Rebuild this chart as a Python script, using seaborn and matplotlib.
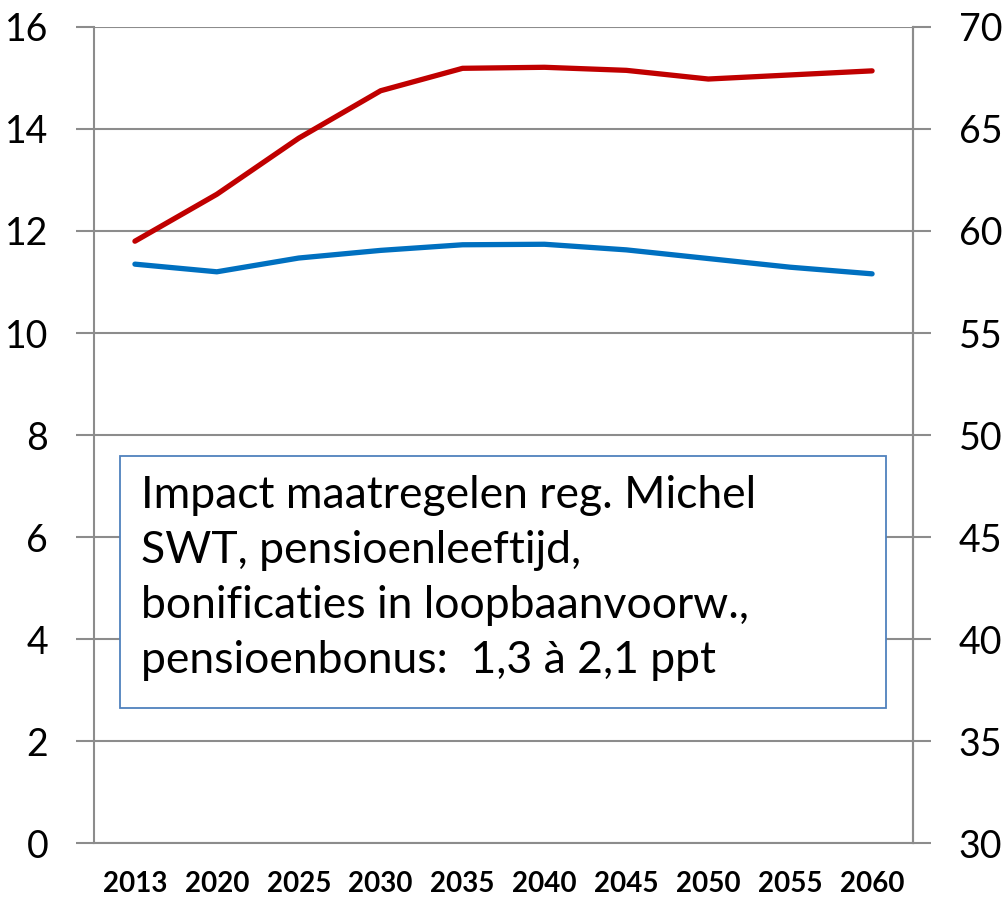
import numpy as np
import pandas as pd
import matplotlib
matplotlib.use("Agg")
import matplotlib.pyplot as plt
import seaborn as sns
from matplotlib.patches import Rectangle
from matplotlib.ticker import FixedLocator, NullFormatter

years = ["2013", "2020", "2025", "2030", "2035", "2040", "2045", "2050", "2055", "2060"]
red_values = [11.80, 12.72, 13.82, 14.75, 15.19, 15.21, 15.15, 14.98, 15.06, 15.14]
blue_values = [11.35, 11.20, 11.47, 11.62, 11.73, 11.74, 11.63, 11.46, 11.29, 11.16]
left_ticks = [0, 2, 4, 6, 8, 10, 12, 14, 16]
right_ticks = [30, 35, 40, 45, 50, 55, 60, 65, 70]
box_lines = [
    "Impact maatregelen reg. Michel",
    "SWT, pensioenleeftijd,",
    "bonificaties in loopbaanvoorw.,",
    "pensioenbonus:  1,3 à 2,1 ppt",
]

sns.set_style("white")
plt.rcParams["font.family"] = ["Lato", "DejaVu Sans"]
plt.rcParams["text.color"] = "black"
plt.rcParams["xtick.color"] = "black"
plt.rcParams["ytick.color"] = "black"

df = pd.DataFrame({
    "year": years * 2,
    "value": red_values + blue_values,
    "series": ["red"] * len(years) + ["blue"] * len(years),
})
df["x"] = list(range(len(years))) * 2

fig = plt.figure(figsize=(10.05, 8.97), dpi=100)
ax = fig.add_axes([0.0935, 0.0602, 0.815, 0.9097])

sns.lineplot(data=df, x="x", y="value", hue="series",
             palette={"red": "#C00000", "blue": "#0070C0"},
             linewidth=3.8, ax=ax, legend=False, sort=False,
             solid_capstyle="round", zorder=3)

grey = "#8c8c8c"
ax.set_xlim(-0.5, len(years) - 0.5)
ax.set_ylim(0, 16)
ax.set_yticks(left_ticks)
ax.set_yticklabels([str(t) for t in left_ticks])
ax.yaxis.grid(True, color=grey, linewidth=1.5)
ax.set_axisbelow(True)

ax.set_xticks(range(len(years)))
ax.set_xticklabels(years, fontweight="bold", fontsize=20)
ax.xaxis.set_minor_locator(FixedLocator(np.arange(-0.5, len(years), 1.0)))
ax.xaxis.set_minor_formatter(NullFormatter())
ax.tick_params(axis="x", which="major", length=0, pad=20, labelcolor="black")
ax.tick_params(axis="x", which="minor", length=10, width=1.5, color=grey, direction="out")
ax.tick_params(axis="y", which="major", length=13, width=1.5, color=grey, labelsize=27,
               pad=20, labelcolor="black")
ax.set_xlabel("")
ax.set_ylabel("")

for side in ["left", "bottom", "right"]:
    ax.spines[side].set_color(grey)
    ax.spines[side].set_linewidth(1.5)
ax.spines["top"].set_visible(False)

ax2 = ax.twinx()
ax2.set_ylim(30, 70)
ax2.set_yticks(right_ticks)
ax2.set_yticklabels([str(t) for t in right_ticks])
ax2.tick_params(axis="y", length=13, width=1.5, color=grey, labelsize=27, pad=20,
                labelcolor="black")
for side in ["left", "bottom", "right", "top"]:
    ax2.spines[side].set_visible(False)
ax2.spines["right"].set_visible(True)
ax2.spines["right"].set_color(grey)
ax2.spines["right"].set_linewidth(1.5)

# annotation box
ax.add_patch(Rectangle((0.0317, 0.1654), 0.9353, 0.3086, transform=ax.transAxes,
                       facecolor="white", edgecolor="#4f81bd", linewidth=1.3,
                       zorder=4, clip_on=False))
for i, line in enumerate(box_lines):
    ax.text(0.0574, 0.4105 - i * 0.0674, line, transform=ax.transAxes,
            fontsize=32, va="baseline", ha="left", color="black", zorder=5)

fig.savefig("out.png", dpi=100)
